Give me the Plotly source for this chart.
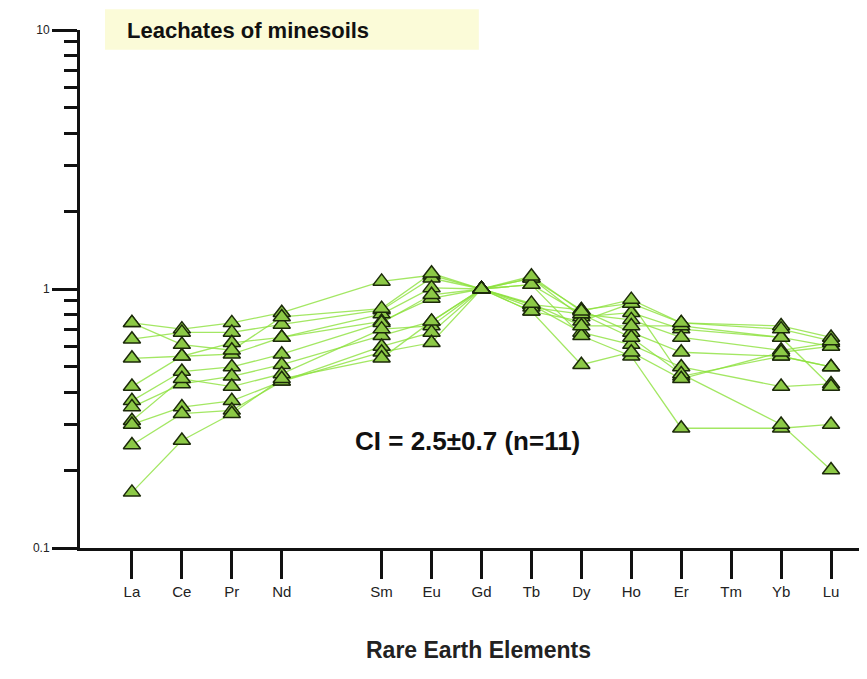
import plotly.graph_objects as go

# Chondrite-type REE pattern, Gd-normalised leachates (11 samples)
REE_ALL = ["La", "Ce", "Pr", "Nd", "Pm", "Sm", "Eu", "Gd", "Tb", "Dy", "Ho", "Er", "Tm", "Yb", "Lu"]
elements = ["La", "Ce", "Pr", "Nd", "Sm", "Eu", "Gd", "Tb", "Dy", "Ho", "Er", "Tm", "Yb", "Lu"]

#             La    Ce    Pr    Nd    Sm    Eu    Gd   Tb    Dy    Ho    Er    Tm    Yb    Lu
s01 = [0.74, 0.70, 0.74, 0.81, 1.07, 1.13, 1.0, 0.87, 0.83, 0.88, 0.74, None, 0.72, 0.65]
s02 = [0.64, 0.68, 0.68, 0.73, 0.83, 1.10, 1.0, 1.10, 0.78, 0.81, 0.70, None, 0.65, 0.60]
s03 = [0.54, 0.55, 0.62, 0.65, 0.80, 1.01, 1.0, 1.04, 0.80, 0.76, 0.65, None, 0.58, 0.62]
s04 = [0.42, 0.55, 0.56, 0.65, 0.75, 0.92, 1.0, 1.10, 0.83, 0.68, 0.57, None, 0.55, 0.50]
s05 = [0.37, 0.48, 0.50, 0.56, 0.74, 0.95, 1.0, 0.87, 0.68, 0.61, 0.50, None, 0.42, 0.43]
s06 = [0.35, 0.43, 0.46, 0.51, 0.66, 0.75, 1.0, 0.82, 0.75, 0.88, 0.46, None, 0.55, 0.50]
s07 = [0.31, 0.45, 0.42, 0.47, 0.70, 0.72, 1.0, 1.04, 0.66, 0.55, 0.29, None, 0.29, 0.30]
s08 = [0.30, 0.35, 0.37, 0.44, 0.60, 0.68, 1.0, 0.85, 0.80, 0.65, 0.47, None, 0.30, 0.20]
s09 = [0.25, 0.33, 0.34, 0.44, 0.57, 0.62, 1.0, 0.82, 0.51, 0.57, 0.45, None, 0.57, 0.60]
s10 = [0.164, 0.26, 0.33, 0.45, 0.54, 0.75, 1.0, 0.88, 0.72, 0.72, 0.72, None, 0.65, 0.42]
s11 = [0.74, 0.61, 0.58, 0.78, 0.84, 1.15, 1.0, 1.12, 0.82, 0.91, 0.74, None, 0.70, 0.63]
samples = [s01, s02, s03, s04, s05, s06, s07, s08, s09, s10, s11]

y_major = [0.1, 1, 10]
y_major_text = ["0.1", "1", "10"]
y_minor = [0.2, 0.3, 0.4, 0.5, 0.6, 0.7, 0.8, 0.9, 2, 3, 4, 5, 6, 7, 8, 9]

FONT = "Arial, Liberation Sans, sans-serif"
x_pos = [REE_ALL.index(e) for e in elements]

fig = go.Figure()

# Linien zuerst, Marker darüber
for vals in samples:
    fig.add_trace(go.Scatter(
        x=x_pos, y=vals, mode='lines', connectgaps=True,
        line=dict(color='rgba(140,225,60,0.8)', width=1.3),
        hoverinfo='skip', showlegend=False
    ))
for vals in samples:
    fig.add_trace(go.Scatter(
        x=x_pos, y=vals, mode='markers',
        marker=dict(symbol='triangle-up', size=15, color='#8cc946',
                    line=dict(color='#1c2a0a', width=1.5)),
        showlegend=False
    ))

fig.add_shape(type='rect', xref='paper', yref='paper',
              x0=0.032, x1=0.51, y0=0.962, y1=1.04,
              fillcolor='#fbfbd8', line=dict(width=0), layer='below')

fig.add_annotation(text="<b>Leachates of minesoils</b>", xref='paper', yref='paper',
                   x=0.058, y=1.0, xanchor='left', yanchor='middle', showarrow=False,
                   font=dict(family=FONT, size=22, color='#111'))
fig.add_annotation(text="<b>CI = 2.5±0.7 (n=11)</b>", xref='paper', yref='paper',
                   x=0.496, y=0.207, xanchor='center', yanchor='middle', showarrow=False,
                   font=dict(family=FONT, size=26, color='#111'))
fig.add_annotation(text="<b>Rare Earth Elements</b>", xref='paper', yref='paper',
                   x=0.51, y=-0.197, xanchor='center', yanchor='middle', showarrow=False,
                   font=dict(family=FONT, size=23, color='#222'))

fig.update_layout(
    width=867, height=679,
    margin=dict(l=72, r=13, t=22, b=139),
    plot_bgcolor='white', paper_bgcolor='white',
    font=dict(family=FONT, color='#111'),
    xaxis=dict(
        range=[-1.04, 14.62], tickmode='array', tickvals=x_pos, ticktext=elements,
        ticks='outside', ticklen=28, tickwidth=3, tickcolor='#111',
        showline=True, linecolor='#111', linewidth=3, showgrid=False, zeroline=False,
        tickfont=dict(size=15, color='#222')
    ),
    yaxis=dict(
        type='log', range=[-1, 1], tickmode='array', tickvals=y_major, ticktext=y_major_text,
        ticks='outside', ticklen=25, tickwidth=3, tickcolor='#111',
        minor=dict(tickmode='array', tickvals=y_minor, ticks='outside', ticklen=13,
                   tickwidth=3, tickcolor='#111', showgrid=False),
        showline=True, linecolor='#111', linewidth=3, showgrid=False, zeroline=False,
        tickfont=dict(size=12, color='#222')
    )
)

fig.write_html("out.html")
